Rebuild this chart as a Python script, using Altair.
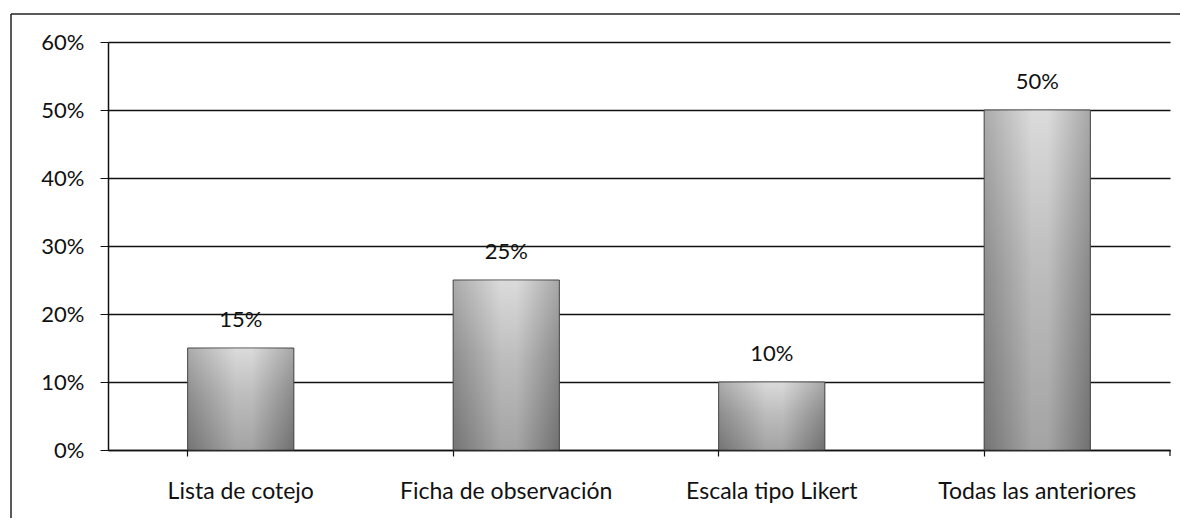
import altair as alt
import pandas as pd

categories = ["Lista de cotejo", "Ficha de observación", "Escala tipo Likert", "Todas las anteriores"]
values = [0.15, 0.25, 0.10, 0.50]
labels = ["15%", "25%", "10%", "50%"]

df = pd.DataFrame({"cat": categories, "val": values, "lab": labels})

FONT = "Lato"
W, H = 1062, 408

x = alt.X("cat:N", sort=categories, title=None,
          scale=alt.Scale(paddingInner=0.6, paddingOuter=0.3),
          axis=alt.Axis(labelAngle=0, bandPosition=0, tickSize=6, labelPadding=24,
                        labelFontSize=23, labelFont=FONT, labelColor="#111", labelLimit=0,
                        domainColor="#111", tickColor="#111", domainWidth=1.5,
                        tickWidth=1.2, grid=False))
y = alt.Y("val:Q", title=None,
          scale=alt.Scale(domain=[0, 0.6]),
          axis=alt.Axis(format=".0%", values=[0, 0.1, 0.2, 0.3, 0.4, 0.5, 0.6],
                        tickSize=8, labelPadding=16, labelFontSize=22, labelFont=FONT,
                        labelColor="#111", domainColor="#111", tickColor="#111",
                        domainWidth=1.5, grid=True, gridColor="#111", gridWidth=1.3))

base = alt.Chart(df)

bars = base.mark_bar(
    color=alt.Gradient(gradient="linear", x1=0, x2=0, y1=0, y2=1,
                       stops=[alt.GradientStop(color="#cfcfcf", offset=0),
                              alt.GradientStop(color="#a8a8a8", offset=0.45),
                              alt.GradientStop(color="#858585", offset=1)]),
    stroke="#444", strokeWidth=1
).encode(x=x, y=y)

shade = base.mark_bar(
    color=alt.Gradient(gradient="linear", x1=0, x2=1, y1=0, y2=0,
                       stops=[alt.GradientStop(color="#404040", offset=0),
                              alt.GradientStop(color="#ffffff", offset=0.45),
                              alt.GradientStop(color="#ffffff", offset=0.6),
                              alt.GradientStop(color="#303030", offset=1)]),
    opacity=0.25
).encode(x=x, y=y)

text = base.mark_text(baseline="bottom", dy=-16, fontSize=22, font=FONT, color="#111").encode(
    x=alt.X("cat:N", sort=categories), y="val:Q", text="lab:N")

right_tick = alt.Chart(df.head(1)).mark_rule(color="#111", strokeWidth=1.2).encode(
    x=alt.value(W), y=alt.value(H), y2=alt.value(H + 6))

frame_top = alt.Chart(df.head(1)).mark_rule(color="#222", strokeWidth=1.5, clip=False).encode(
    x=alt.value(-97), x2=alt.value(W + 12), y=alt.value(-28))
frame_left = alt.Chart(df.head(1)).mark_rule(color="#222", strokeWidth=1.5, clip=False).encode(
    x=alt.value(-97), y=alt.value(-28), y2=alt.value(H + 70))

chart = alt.layer(bars, shade, text, right_tick, frame_top, frame_left).properties(
    width=W, height=H,
    autosize=alt.AutoSizeParams(type="none"),
    padding={"left": 100, "top": 34, "right": 10, "bottom": 68},
    background="white"
).configure_view(stroke=None)

chart.save("out.html", embed_options={"renderer": "svg", "actions": False})
